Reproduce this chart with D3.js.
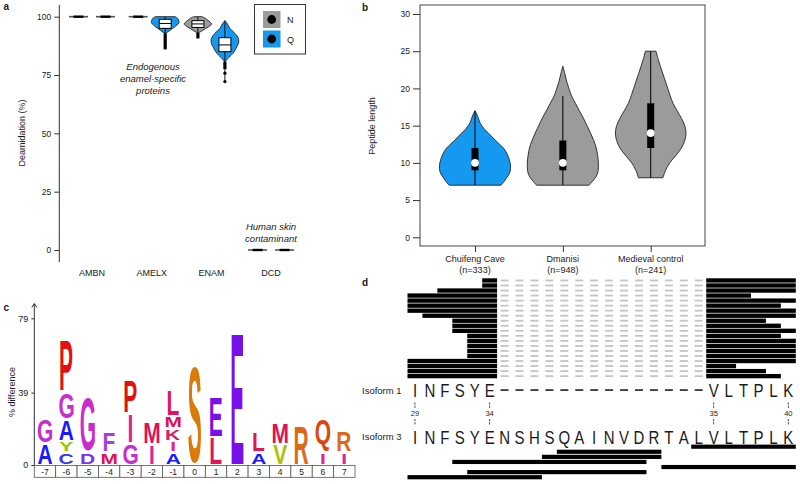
<!DOCTYPE html>
<html><head><meta charset="utf-8">
<script src="https://cdn.jsdelivr.net/npm/d3@7"></script>
<style>
body{margin:0;background:#fff}
svg{display:block}
text{font-family:"Liberation Sans",Arial,Helvetica,sans-serif;fill:#1a1a1a}
</style>
</head><body>
<svg id="chart" width="800" height="484"></svg>
<script>
// ================= DATA =================
// ---- panel a : deamidation
const proteins = ["AMBN", "AMELX", "ENAM", "DCD"];
const residues = ["N", "Q"];
const deamidationTicks = [0, 25, 50, 75, 100];
const flatProtein = ["AMBN", "AMBN", "AMELX", "DCD", "DCD"];
const flatResidue = ["N", "Q", "N", "N", "Q"];
const flatValue = [100, 100, 100, 0, 0];
// [deamidation %, relative density]
const amelxQDensity = [[100,0.72],[99.5,0.86],[98.8,0.95],[97.4,1],[96.5,0.86],[95.5,0.66],[95,0.54],[94.2,0.36],[93.6,0.22],[92.9,0]];
const enamNDensity = [[100,0.3],[99.3,0.55],[98.6,0.7],[97.6,0.9],[96.9,1],[96,0.85],[95,0.58],[94.2,0.36],[93.6,0.2],[93.1,0]];
const enamQDensity = [[98.3,0],[97.1,0.17],[95,0.36],[92.9,0.72],[90.7,0.98],[89.6,1],[88.6,0.98],[86.4,0.8],[84.3,0.58],[82.6,0.3],[80.7,0]];
// [whisker low, q1, median, q3, whisker high]
const amelxQBox = [86, 95, 97.1, 98.9, 100];
const enamNBox = [90.7, 95.4, 96.9, 98.3, 100];
const enamQBox = [77.5, 85, 87.9, 91, 98.3];
const enamQOutliers = [75.8, 72.2];

// ---- panel b : peptide length
const sites = ["Chuifeng Cave", "Dmanisi", "Medieval control"];
const siteCounts = [333, 948, 241];
const lengthTicks = [0, 5, 10, 15, 20, 25, 30];
const chuifengDensity = [[7,0.73],[7.5,0.82],[8,0.89],[8.5,0.96],[9,0.995],[9.5,1.0],[10,0.99],[10.8,0.94],[11.5,0.87],[12,0.8],[12.5,0.69],[13,0.58],[13.5,0.48],[14,0.375],[14.5,0.27],[15,0.19],[15.5,0.13],[16,0.093],[16.5,0.055],[17,0]];
const dmanisiDensity = [[7,0.74],[7.5,0.83],[8,0.915],[8.5,0.97],[9,0.995],[10,1.0],[11,0.98],[12,0.94],[13,0.87],[14,0.78],[15,0.68],[16,0.58],[17,0.465],[18,0.355],[19,0.245],[20,0.17],[21,0.104],[22,0.056],[23,0]];
const medievalDensity = [[8,0.345],[9,0.42],[10,0.535],[11,0.71],[12,0.865],[13,0.96],[14,0.995],[15,0.96],[16,0.865],[17,0.745],[18,0.63],[19,0.55],[20,0.48],[21,0.41],[22,0.34],[23,0.27],[24,0.205],[25,0.15]];
// [min, q1, median, q3, max]
const chuifengBox = [7, 9, 10, 12, 17];
const dmanisiBox = [7, 9, 10, 13, 19];
const medievalBox = [8, 12, 14, 18, 25];

// ---- panel c : sequence logo
const logoPositions = [-7,-6,-5,-4,-3,-2,-1,0,1,2,3,4,5,6,7];
const logoTicks = [0, 39, 79];
const logoLetters = ["AG","CYAGP","DG","MF","GIP","IM","AIKML","S","LE","E","AL","VM","R","IQ","IR"];
const logoHeights = [[11.8,13.4],[7.0,5.9,11.6,14.8,27.9],[7.0,29.6],[7.0,11.3],[11.8,16.1,17.7],[11.3,12.4],[7.0,5.9,6.7,6.7,14.0],[53.2],[15.0,21.8],[70.9],[7.0,11.0],[11.3,11.8],[21.0],[7.0,18.3],[7.0,11.3]];

// ---- panel d : peptide coverage of the isoforms
const isoform3 = ["I","N","F","S","Y","E","N","S","H","S","Q","A","I","N","V","D","R","T","A","L","V","L","T","P","L","K"];
const isoform1 = ["I","N","F","S","Y","E","-","-","-","-","-","-","-","-","-","-","-","-","-","-","V","L","T","P","L","K"];
const isoform1Numbers = [29, 34, 35, 40];
const junctionStart = [34,34,31,29,29,29,29,30,32,32,32,33,33,33,33,33,29,29,29,29];
const junctionEnd   = [40,40,40,37,40,39,40,40,38,39,40,39,40,40,40,40,40,36,38,39];
const iso3PeptideStart = [48,39,38,32,46,33,29];
const iso3PeptideEnd   = [54,45,45,44,54,44,37];

// ================= STYLE =================
const BLUE = "#1598f0", GREY = "#9b9b9b";
const letterColor = {A:"#1a1aff",C:"#3a3ae0",D:"#7a33ee",E:"#7a10e8",F:"#a53ddc",G:"#c82ecb",I:"#de2290",K:"#de1a6a",L:"#e0155e",M:"#de1158",P:"#e21010",Q:"#d9480f",R:"#dd6a1a",S:"#d97a0a",V:"#a8c400",Y:"#99c400"};

const svg = d3.select("#chart");

function violin(g, profile, cx, yS, wS, fill) {
  const area = d3.area()
    .x0(d => cx - wS(d[1])).x1(d => cx + wS(d[1])).y(d => yS(d[0]))
    .curve(d3.curveCatmullRom.alpha(0.5));
  g.append("path").attr("d", area(profile)).attr("fill", fill)
    .attr("stroke", "#222").attr("stroke-width", 0.9);
}
function styleAxis(g, fs) {
  g.select(".domain").remove();
  g.selectAll(".tick line").attr("stroke", "#333");
  g.selectAll(".tick text").style("font-size", fs + "px").attr("fill", "#1a1a1a")
    .style("font-family", '"Liberation Sans",Arial,sans-serif');
}

// ================= PANEL A =================
{
  const g = svg.append("g");
  const xA = d3.scalePoint().domain(proteins).range([92, 271.1]);
  const xR = d3.scalePoint().domain(residues).range([-13.5, 13.5]);
  const yA = d3.scaleLinear().domain([0, 100]).range([250, 16.7]);
  const wA = d3.scaleLinear().domain([0, 1]).range([0, 13.8]);
  const cx = (p, r) => xA(p) + xR(r);

  g.append("line").attr("x1", 59.3).attr("x2", 59.3).attr("y1", 5).attr("y2", 262).attr("stroke", "#333");
  const ax = g.append("g").attr("transform", "translate(59.3,0)")
    .call(d3.axisLeft(yA).tickValues(deamidationTicks).tickSize(5).tickPadding(3));
  styleAxis(ax, 8.5);

  g.selectAll(".plab").data(proteins).join("text").attr("x", d => xA(d)).attr("y", 276)
    .attr("text-anchor", "middle").style("font-size", "9px").text(d => d);
  g.append("text").attr("transform", "translate(25,133) rotate(-90)").attr("text-anchor", "middle")
    .style("font-size", "9px").text("Deamidation (%)");
  g.append("text").attr("x", 3.5).attr("y", 10).style("font-size", "10px").style("font-weight", "bold").text("a");

  // flat (no spread) groups
  flatValue.forEach((v, i) => {
    const c = cx(flatProtein[i], flatResidue[i]);
    g.append("line").attr("x1", c - 9.5).attr("x2", c + 9.5).attr("y1", yA(v)).attr("y2", yA(v))
      .attr("stroke", "#555").attr("stroke-width", 1.6);
    g.append("line").attr("x1", c - 5).attr("x2", c + 5).attr("y1", yA(v)).attr("y2", yA(v))
      .attr("stroke", "#000").attr("stroke-width", 2.4);
  });

  function boxA(c, prof, box, fill, outl) {
    violin(g, prof, c, yA, wA, fill);
    const vals = prof.map(d => d[0]);
    const vmin = d3.min(vals), vmax = d3.max(vals);
    const low = outl ? d3.min(outl) : box[0];
    g.append("line").attr("x1", c).attr("x2", c).attr("y1", yA(vmax)).attr("y2", yA(Math.min(vmin, low)))
      .attr("stroke", "#000").attr("stroke-width", 0.9);
    g.append("line").attr("x1", c).attr("x2", c).attr("y1", yA(vmin)).attr("y2", yA(box[0]))
      .attr("stroke", "#000").attr("stroke-width", 3.2);
    g.append("rect").attr("x", c - 6).attr("width", 12).attr("y", yA(box[3])).attr("height", yA(box[1]) - yA(box[3]))
      .attr("fill", "#fff").attr("stroke", "#000").attr("stroke-width", 1);
    g.append("line").attr("x1", c - 6).attr("x2", c + 6).attr("y1", yA(box[2])).attr("y2", yA(box[2]))
      .attr("stroke", "#000").attr("stroke-width", 1);
    if (outl) outl.forEach(o => g.append("circle").attr("cx", c).attr("cy", yA(o)).attr("r", 1.6).attr("fill", "#000"));
  }
  boxA(cx("AMELX", "Q"), amelxQDensity, amelxQBox, BLUE);
  boxA(cx("ENAM", "N"), enamNDensity, enamNBox, GREY);
  boxA(cx("ENAM", "Q"), enamQDensity, enamQBox, BLUE, enamQOutliers);

  // annotations
  const it = g.append("text").attr("text-anchor", "middle").style("font-size", "9.5px").style("font-style", "italic");
  [["Endogenous", 70], ["enamel-specific", 82], ["proteins", 94]].forEach(([t, y]) =>
    it.append("tspan").attr("x", 153).attr("y", y).text(t));
  const it2 = g.append("text").attr("text-anchor", "middle").style("font-size", "9.5px").style("font-style", "italic");
  [["Human skin", 230], ["contaminant", 241.5]].forEach(([t, y]) =>
    it2.append("tspan").attr("x", 271).attr("y", y).text(t));

  // legend
  g.append("rect").attr("x", 254.5).attr("y", 4.5).attr("width", 51).attr("height", 49.5)
    .attr("fill", "#fff").attr("stroke", "#333").attr("stroke-width", 1);
  [[GREY, "N", 11], [BLUE, "Q", 30.5]].forEach(([col, lab, y]) => {
    g.append("rect").attr("x", 263).attr("y", y).attr("width", 17.5).attr("height", 17).attr("fill", col);
    g.append("circle").attr("cx", 271.7).attr("cy", y + 8.5).attr("r", 4.4).attr("fill", "#000");
    g.append("text").attr("x", 287).attr("y", y + 12).style("font-size", "9px").text(lab);
  });
}

// ================= PANEL B =================
{
  const g = svg.append("g");
  const xB = d3.scalePoint().domain(sites).range([475, 650.7]);
  const yB = d3.scaleLinear().domain([0, 30]).range([237.3, 14]);
  const wB = d3.scaleLinear().domain([0, 1]).range([0, 35.5]);

  g.append("rect").attr("x", 420).attr("y", 5).attr("width", 285).attr("height", 241)
    .attr("fill", "none").attr("stroke", "#444").attr("stroke-width", 1);
  const ay = g.append("g").attr("transform", "translate(420,0)")
    .call(d3.axisLeft(yB).tickValues(lengthTicks).tickSize(7).tickPadding(3));
  styleAxis(ay, 8.5);
  const axb = g.append("g").attr("transform", "translate(0,246)")
    .call(d3.axisBottom(xB).tickSize(6).tickFormat(""));
  styleAxis(axb, 8.5);
  sites.forEach((s, i) => {
    g.append("text").attr("x", xB(s)).attr("y", 261.5).attr("text-anchor", "middle").style("font-size", "9px").text(s);
    g.append("text").attr("x", xB(s)).attr("y", 272.5).attr("text-anchor", "middle").style("font-size", "9px").text("(n=" + siteCounts[i] + ")");
  });
  g.append("text").attr("transform", "translate(375,126) rotate(-90)").attr("text-anchor", "middle")
    .style("font-size", "9px").text("Peptide length");
  g.append("text").attr("x", 362).attr("y", 11).style("font-size", "10px").style("font-weight", "bold").text("b");

  const profs = [chuifengDensity, dmanisiDensity, medievalDensity];
  const boxes = [chuifengBox, dmanisiBox, medievalBox];
  const fills = [BLUE, GREY, GREY];
  sites.forEach((s, i) => {
    const c = xB(s), b = boxes[i];
    violin(g, profs[i], c, yB, wB, fills[i]);
    g.append("line").attr("x1", c).attr("x2", c).attr("y1", yB(b[0])).attr("y2", yB(b[4]))
      .attr("stroke", "#000").attr("stroke-width", 1);
    g.append("rect").attr("x", c - 3.5).attr("width", 7).attr("y", yB(b[3])).attr("height", yB(b[1]) - yB(b[3])).attr("fill", "#000");
    g.append("circle").attr("cx", c).attr("cy", yB(b[2])).attr("r", 3.9).attr("fill", "#fff");
  });
}

// ================= PANEL C =================
{
  const g = svg.append("g");
  const xC = d3.scaleBand().domain(logoPositions).range([34.3, 355]).padding(0);
  const yC = d3.scaleLinear().domain([0, 79]).range([465, 318.3]);

  g.append("line").attr("x1", 34.3).attr("x2", 34.3).attr("y1", 465).attr("y2", 304).attr("stroke", "#333");
  g.append("path").attr("d", "M31.8,307.5L34.3,303.5L36.8,307.5").attr("fill", "none").attr("stroke", "#333");
  const ay = g.append("g").attr("transform", "translate(34.3,0)")
    .call(d3.axisLeft(yC).tickValues(logoTicks).tickSize(3).tickPadding(3));
  styleAxis(ay, 9);
  g.append("text").attr("transform", "translate(15,392) rotate(-90)").attr("text-anchor", "middle")
    .style("font-size", "9px").text("% difference");
  g.append("text").attr("x", 3.5).attr("y", 310.5).style("font-size", "10px").style("font-weight", "bold").text("c");

  logoPositions.forEach(p => {
    g.append("rect").attr("x", xC(p)).attr("y", 465.5).attr("width", xC.bandwidth()).attr("height", 11.8)
      .attr("fill", "#fff").attr("stroke", "#555").attr("stroke-width", 0.8);
    g.append("text").attr("x", xC(p) + xC.bandwidth() / 2).attr("y", 474.6).attr("text-anchor", "middle")
      .style("font-size", "8.5px").text(p);
  });

  const ctx = document.createElement("canvas").getContext("2d");
  ctx.font = 'bold 100px "Liberation Sans"';
  const NAT = 21; // natural horizontal font size
  logoPositions.forEach((p, i) => {
    const cxp = xC(p) + xC.bandwidth() / 2;
    let cum = 0;
    logoLetters[i].split("").forEach((ch, k) => {
      const v = logoHeights[i][k];
      const yb = yC(cum) - 1.2, yt = yC(cum + v) + 1.2;
      cum += v;
      const m = ctx.measureText(ch);
      const asc = m.actualBoundingBoxAscent, desc = m.actualBoundingBoxDescent;
      const L = m.actualBoundingBoxLeft, R = m.actualBoundingBoxRight;
      const sx = NAT / 100;
      const sy = (yb - yt) / (asc + desc);
      const tx = cxp - sx * (R - L) / 2;
      const ty = yb - desc * sy;
      g.append("text").attr("transform", `translate(${tx},${ty}) scale(${sx},${sy})`)
        .attr("x", 0).attr("y", 0).style("font-size", "100px").style("font-weight", "bold")
        .attr("fill", letterColor[ch]).style("fill", letterColor[ch]).text(ch);
    });
  });
}

// ================= PANEL D =================
{
  const g = svg.append("g");
  const xD = d3.scaleBand().domain(d3.range(isoform3.length)).range([407.5, 795.8]).padding(0);
  const st = xD.bandwidth();
  const mid = i => xD(i) + st / 2;
  const iso1Index = r => r <= 34 ? r - 29 : r - 35 + 20;
  const iso3Index = r => r - 29;

  g.append("text").attr("x", 362).attr("y", 286).style("font-size", "10px").style("font-weight", "bold").text("d");
  g.append("text").attr("x", 362).attr("y", 393.5).style("font-size", "9.5px").text("Isoform 1");
  g.append("text").attr("x", 362).attr("y", 439.5).style("font-size", "9.5px").text("Isoform 3");

  // junction-spanning peptides (isoform 1)
  const rowY = d3.scaleBand().domain(d3.range(junctionStart.length)).range([278.3, 378.3]).paddingInner(0.14);
  junctionStart.forEach((s, r) => {
    const y = rowY(r), h = rowY.bandwidth();
    g.append("rect").attr("x", xD(iso1Index(s))).attr("width", xD(iso1Index(34)) + st - xD(iso1Index(s)))
      .attr("y", y).attr("height", h).attr("fill", "#000");
    const e = junctionEnd[r];
    g.append("rect").attr("x", xD(iso1Index(35))).attr("width", xD(iso1Index(e)) + st - xD(iso1Index(35)))
      .attr("y", y).attr("height", h).attr("fill", "#000");
    isoform1.forEach((ch, i) => {
      if (ch === "-") g.append("rect").attr("x", mid(i) - 4).attr("width", 8).attr("y", y + h / 2 - 0.9)
        .attr("height", 1.8).attr("fill", "#c4c4c4");
    });
  });

  // sequences
  function seqRow(seq, baseline) {
    seq.forEach((ch, i) => {
      if (ch === "-") {
        g.append("rect").attr("x", mid(i) - 4).attr("width", 8).attr("y", baseline - 7.2).attr("height", 1.5).attr("fill", "#111");
      } else {
        g.append("text").attr("transform", `translate(${mid(i)},${baseline}) scale(1,1.25)`)
          .attr("text-anchor", "middle").style("font-size", "15px").attr("fill", "#111").text(ch);
      }
    });
  }
  seqRow(isoform1, 396.5);
  seqRow(isoform3, 444);

  isoform1Numbers.forEach(r => {
    const x = mid(iso1Index(r));
    g.append("text").attr("x", x).attr("y", 416).attr("text-anchor", "middle").style("font-size", "7.5px").text(r);
    [[402.5, 408.5], [419, 425]].forEach(([a, b]) =>
      g.append("line").attr("x1", x).attr("x2", x).attr("y1", a).attr("y2", b)
        .attr("stroke", "#333").attr("stroke-width", 0.9).attr("stroke-dasharray", "2.2,1"));
  });

  // isoform 3 peptides
  const rowY3 = d3.scaleBand().domain(d3.range(iso3PeptideStart.length)).range([444.6, 479.3]).paddingInner(0.18);
  iso3PeptideStart.forEach((s, r) => {
    const e = iso3PeptideEnd[r];
    g.append("rect").attr("x", xD(iso3Index(s))).attr("width", xD(iso3Index(e)) + st - xD(iso3Index(s)))
      .attr("y", rowY3(r)).attr("height", rowY3.bandwidth()).attr("fill", "#000");
  });
}
</script>
</body></html>
